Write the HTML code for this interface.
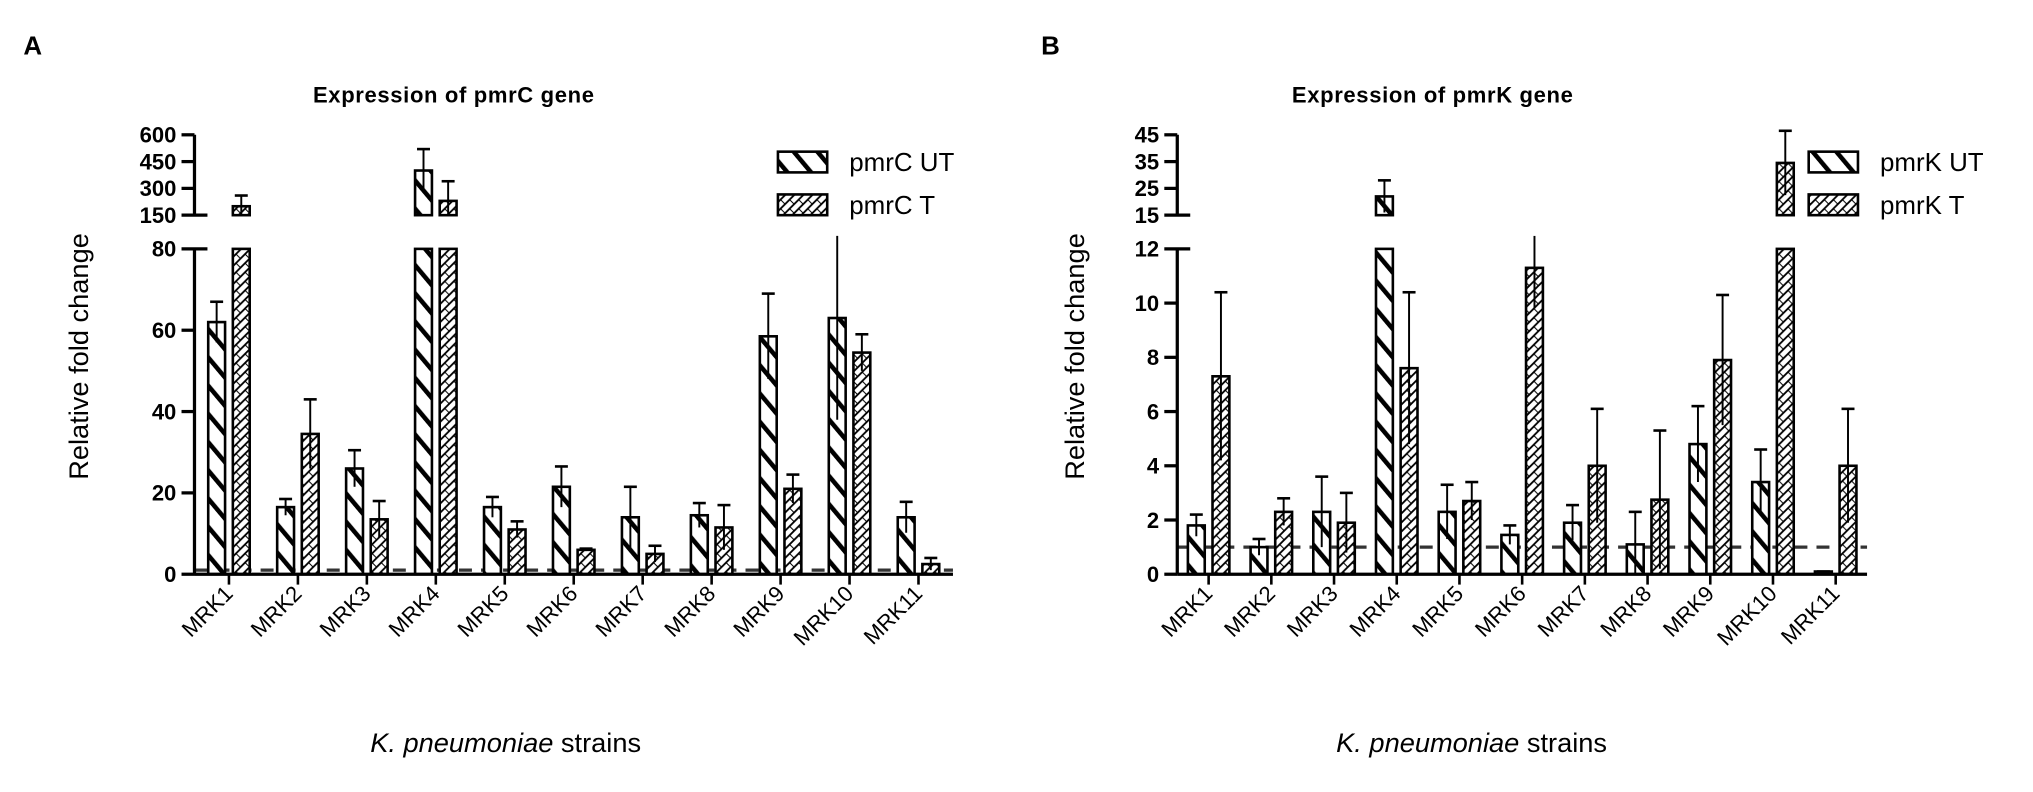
<!DOCTYPE html>
<html><head><meta charset="utf-8"><style>
html,body{margin:0;padding:0;background:#fff;}
svg{display:block;font-family:"Liberation Sans",Arial,sans-serif;}
</style></head><body>
<svg id="chart" width="2033" height="792" viewBox="0 0 1568 611" preserveAspectRatio="none" xmlns="http://www.w3.org/2000/svg">
<defs>
<pattern id="pUT" patternUnits="userSpaceOnUse" width="14" height="14" patternTransform="rotate(-40)">
<rect width="14" height="14" fill="#fff"/><rect x="0" y="0" width="3.5" height="14" fill="#000"/>
</pattern>
<pattern id="pT" patternUnits="userSpaceOnUse" width="7" height="7">
<rect width="7" height="7" fill="#fff"/><path d="M0,7 L7,0 M-1,1 L1,-1 M6,8 L8,6" stroke="#000" stroke-width="1.4"/><path d="M0,0 L3.5,3.5" stroke="#000" stroke-width="0.8"/>
</pattern>
</defs>
<g id="root"></g>
</svg>
<script>
const categories = ["MRK1","MRK2","MRK3","MRK4","MRK5","MRK6","MRK7","MRK8","MRK9","MRK10","MRK11"];
const pmrcUT = [62,16.5,26,400,16.5,21.5,14,14.5,58.5,63,14];
const pmrcUTerr = [5,2,4.5,120,2.5,5,7.5,3,10.5,25,3.8];
const pmrcT = [200,34.5,13.5,230,11,6,5,11.5,21,54.5,2.5];
const pmrcTerr = [60,8.5,4.5,110,2,0.3,2,5.5,3.5,4.5,1.5];
const pmrkUT = [1.8,1.0,2.3,22,2.3,1.45,1.9,1.1,4.8,3.4,0.1];
const pmrkUTerr = [0.4,0.3,1.3,6,1.0,0.35,0.65,1.2,1.4,1.2,0];
const pmrkT = [7.3,2.3,1.9,7.6,2.7,11.3,4.0,2.75,7.9,34.5,4.0];
const pmrkTerr = [3.1,0.5,1.1,2.8,0.7,1.5,2.1,2.55,2.4,12,2.1];
const ticksA_low = [0,20,40,60,80];
const ticksA_up = [150,300,450,600];
const ticksB_low = [0,2,4,6,8,10,12];
const ticksB_up = [15,25,35,45];

const NS="http://www.w3.org/2000/svg";
const root=document.getElementById('root');
function el(tag,attrs,parent){const e=document.createElementNS(NS,tag);for(const k in attrs)e.setAttribute(k,attrs[k]);(parent||root).appendChild(e);return e;}

function panel(cfg){
  const g=el('g',{});
  
  
  const ax=cfg.axisX, x1=cfg.axisEnd, base=443, lowTop=192, upBot=166, upTop=104;
  const lowMax=cfg.lowTicks[cfg.lowTicks.length-1];
  const upMin=cfg.upTicks[0], upMax=cfg.upTicks[cfg.upTicks.length-1];
  function yLow(v){return base-(v/lowMax)*(base-lowTop);}
  function yUp(v){return upBot-((v-upMin)/(upMax-upMin))*(upBot-upTop);}
  function y(v){return v<=lowMax?yLow(v):(v<upMin?upBot:yUp(Math.min(v,upMax+ (upMax-upMin)*0.05)));}
  const step=(x1-ax)/categories.length;
  function cx(i){return ax+step*(i+0.5);}
  const dl=el('line',{x1:ax,x2:x1,y1:yLow(1),y2:yLow(1),stroke:'#333','stroke-width':2.5,'stroke-dasharray':'10,7'},g);
  
  
  function bar(i,v,err,series,fill,dx){
    const bx=cx(i)+dx, w=13;
    const bg=el('g',{},g);
    
    
    const topLow=yLow(Math.min(v,lowMax));
    el('rect',{x:bx,y:topLow,width:w,height:base-topLow,fill:fill,stroke:'#000','stroke-width':2},bg);
    if(v>lowMax){const t=yUp(v);el('rect',{x:bx,y:t,width:w,height:upBot-t,fill:fill,stroke:'#000','stroke-width':2},bg);}
    const hi=v+err, lo=v-err;
    let yh;
    if(v>lowMax){yh=yUp(hi);}else{yh=hi>lowMax?lowTop-10:yLow(hi);}
    el('line',{x1:bx+w/2,x2:bx+w/2,y1:Math.min(y(lo),base),y2:yh,stroke:'#000','stroke-width':1.5},bg);
    if(!(v<=lowMax && hi>lowMax)) el('line',{x1:bx+w/2-5,x2:bx+w/2+5,y1:yh,y2:yh,stroke:'#000','stroke-width':2},bg);
  }
  for(let i=0;i<categories.length;i++){
    bar(i,cfg.ut[i],cfg.utErr[i],'ut','url(#pUT)',-16);
    bar(i,cfg.t[i],cfg.tErr[i],'t','url(#pT)',3);
  }
  const ya=el('g',{},g);
  
  
  el('line',{x1:ax,x2:ax,y1:base,y2:lowTop,stroke:'#000','stroke-width':2.5},ya);
  el('line',{x1:ax,x2:ax,y1:upBot,y2:upTop,stroke:'#000','stroke-width':2.5},ya);
  cfg.lowTicks.forEach(t=>{const yy=yLow(t);el('line',{x1:ax-10,x2:ax+(t===lowMax?10:0),y1:yy,y2:yy,stroke:'#000','stroke-width':2.5},ya);
    const tx=el('text',{x:ax-14,y:yy+6,'text-anchor':'end','font-size':17,'font-weight':'bold'},ya);tx.textContent=t;});
  cfg.upTicks.forEach(t=>{const yy=yUp(t);el('line',{x1:ax-10,x2:ax+(t===upMin?10:0),y1:yy,y2:yy,stroke:'#000','stroke-width':2.5},ya);
    const tx=el('text',{x:ax-14,y:yy+6,'text-anchor':'end','font-size':17,'font-weight':'bold'},ya);tx.textContent=t;});
  const xa=el('g',{},g);
  
  
  el('line',{x1:ax,x2:x1,y1:base,y2:base,stroke:'#000','stroke-width':2.5},xa);
  categories.forEach((c,i)=>{const xx=cx(i);el('line',{x1:xx,x2:xx,y1:base,y2:base+8,stroke:'#000','stroke-width':2},xa);
    const tx=el('text',{x:xx+4,y:base+16,'text-anchor':'end','font-size':17,transform:`rotate(-45 ${xx+4} ${base+16})`},xa);tx.textContent=c;
    
    });
  const tt=el('text',{x:cfg.titleX,y:79,'text-anchor':'middle','font-size':17,'font-weight':'bold','letter-spacing':'0.5'},g);tt.textContent=cfg.title;
  
  
  const yt=el('text',{x:cfg.yTitleX,y:275,'text-anchor':'middle','font-size':21,transform:`rotate(-90 ${cfg.yTitleX} 275)`},g);yt.textContent='Relative fold change';
  
  
  const xt=el('text',{x:cfg.xTitleX,y:580,'text-anchor':'middle','font-size':21},g);
  const it=el('tspan',{'font-style':'italic'},xt);it.textContent='K. pneumoniae';
  const rt=el('tspan',{},xt);rt.textContent=' strains';
  
  
  const pl=el('text',{x:cfg.letterX,y:42,'font-size':20,'font-weight':'bold'},g);pl.textContent=cfg.letter;
  
  
  const lg=el('g',{},g);
  
  
  [[cfg.legUT,'url(#pUT)',117],[cfg.legT,'url(#pT)',150]].forEach(([lab,f,yy])=>{
    const le=el('g',{},lg);
    
    
    el('rect',{x:cfg.legX,y:yy,width:38,height:16,fill:f,stroke:'#000','stroke-width':2},le);
    const t=el('text',{x:cfg.legX+55,y:yy+15,'font-size':20},le);t.textContent=lab;
  });
}
panel({name:'panel-a-pmrc',axisX:150,axisEnd:735,lowTicks:ticksA_low,upTicks:ticksA_up,ut:pmrcUT,utErr:pmrcUTerr,t:pmrcT,tErr:pmrcTerr,
  title:'Expression of pmrC gene',titleX:350,yTitleX:68,xTitleX:390,letter:'A',letterX:18,legX:600,legUT:'pmrC UT',legT:'pmrC T'});
panel({name:'panel-b-pmrk',axisX:908,axisEnd:1440,lowTicks:ticksB_low,upTicks:ticksB_up,ut:pmrkUT,utErr:pmrkUTerr,t:pmrkT,tErr:pmrkTerr,
  title:'Expression of pmrK gene',titleX:1105,yTitleX:836,xTitleX:1135,letter:'B',letterX:803,legX:1395,legUT:'pmrK UT',legT:'pmrK T'});
</script>
</body></html>
